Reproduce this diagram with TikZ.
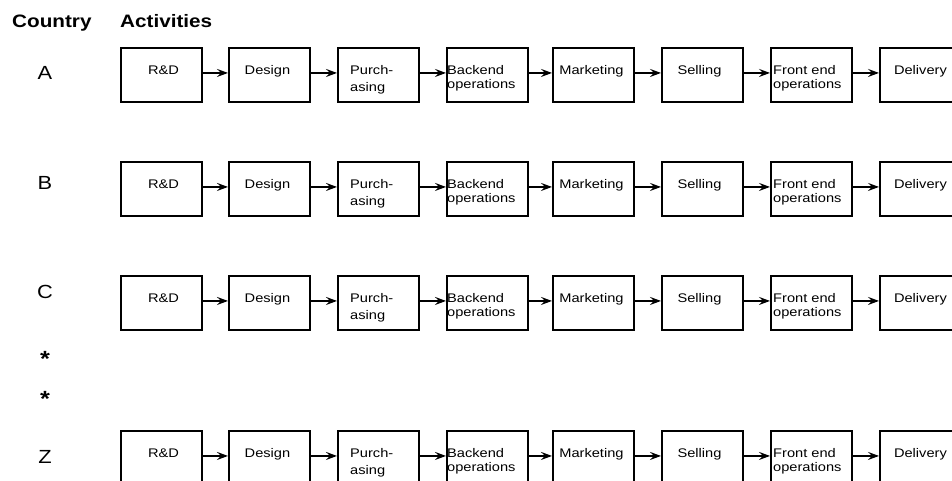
\documentclass[tikz,border=0pt]{standalone}
\usepackage{fontspec}
\setmainfont{Liberation Sans}
\newfontfamily\boxfont[FakeStretch=1.17]{Liberation Sans}
\newfontfamily\headfont[FakeStretch=1.15]{Liberation Sans}
\usetikzlibrary{arrows.meta}
\tikzset{
  actbox/.style={draw, line width=1.9pt, minimum width=81pt, minimum height=54pt, anchor=north west, inner sep=0pt},
  lbl/.style={font=\boxfont\fontsize{12.5}{13.5}\selectfont, inner sep=0pt, anchor=base},
  lblw/.style={lbl, anchor=base west},
  flowarrow/.style={line width=1.7pt, -{Stealth[length=11pt,width=8pt,inset=4pt]}},
  heading/.style={font=\headfont\bfseries\fontsize{18}{20}\selectfont, inner sep=0pt, anchor=base west},
  rowletter/.style={font=\headfont\fontsize{19}{21}\selectfont, inner sep=0pt},
  starmark/.style={font=\headfont\bfseries\fontsize{22}{24}\selectfont, inner sep=0pt}
}
\newcommand\actrow[2]{%
  \node[actbox] (#1a) at (120,#2) {};
  \node[actbox] (#1b) at (228,#2) {};
  \node[actbox] (#1c) at (337,#2) {};
  \node[actbox] (#1d) at (446,#2) {};
  \node[actbox] (#1e) at (552,#2) {};
  \node[actbox] (#1f) at (661,#2) {};
  \node[actbox] (#1g) at (770,#2) {};
  \node[actbox] (#1h) at (879,#2) {};
  \node[lbl] at ([xshift=2pt]#1a.center) {R\&D};
  \node[lbl] at ([xshift=-2pt]#1b.center) {Design};
  \node[lblw] at ([xshift=13pt]#1c.west) {Purch-};
  \node[lblw] at ([xshift=13pt,yshift=-17pt]#1c.west) {asing};
  \node[lblw] at ([xshift=1pt]#1d.west) {Backend};
  \node[lblw] at ([xshift=1pt,yshift=-14pt]#1d.west) {operations};
  \node[lbl] at ([xshift=-2pt]#1e.center) {Marketing};
  \node[lbl] at ([xshift=-3pt]#1f.center) {Selling};
  \node[lblw] at ([xshift=3pt]#1g.west) {Front end};
  \node[lblw] at ([xshift=3pt,yshift=-14pt]#1g.west) {operations};
  \node[lbl] at (#1h.center) {Delivery};
  \draw[flowarrow] ([yshift=2pt]#1a.east) -- ([yshift=2pt]#1b.west);
  \draw[flowarrow] ([yshift=2pt]#1b.east) -- ([yshift=2pt]#1c.west);
  \draw[flowarrow] ([yshift=2pt]#1c.east) -- ([yshift=2pt]#1d.west);
  \draw[flowarrow] ([yshift=2pt]#1d.east) -- ([yshift=2pt]#1e.west);
  \draw[flowarrow] ([yshift=2pt]#1e.east) -- ([yshift=2pt]#1f.west);
  \draw[flowarrow] ([yshift=2pt]#1f.east) -- ([yshift=2pt]#1g.west);
  \draw[flowarrow] ([yshift=2pt]#1g.east) -- ([yshift=2pt]#1h.west);
}
\begin{document}
\begin{tikzpicture}[x=1pt,y=-1pt]
  \useasboundingbox (0,0) rectangle (952,481);
  \clip (0,0) rectangle (952,481);
  \fill[white] (0,0) rectangle (952,481);
  \node[heading] (country) at (12,28) {Country};
  \node[heading] (activities) at (120,28) {Activities};
  \node[rowletter] (la) at (45,73) {A};
  \node[rowletter] (lb) at (45,183) {B};
  \node[rowletter] (lc) at (45,292) {C};
  \node[starmark] (s1) at (45,359) {*};
  \node[starmark] (s2) at (45,399) {*};
  \node[rowletter] (lz) at (45,457) {Z};
  \actrow{A}{47}
  \actrow{B}{161}
  \actrow{C}{275}
  \actrow{Z}{430}
\end{tikzpicture}
\end{document}
